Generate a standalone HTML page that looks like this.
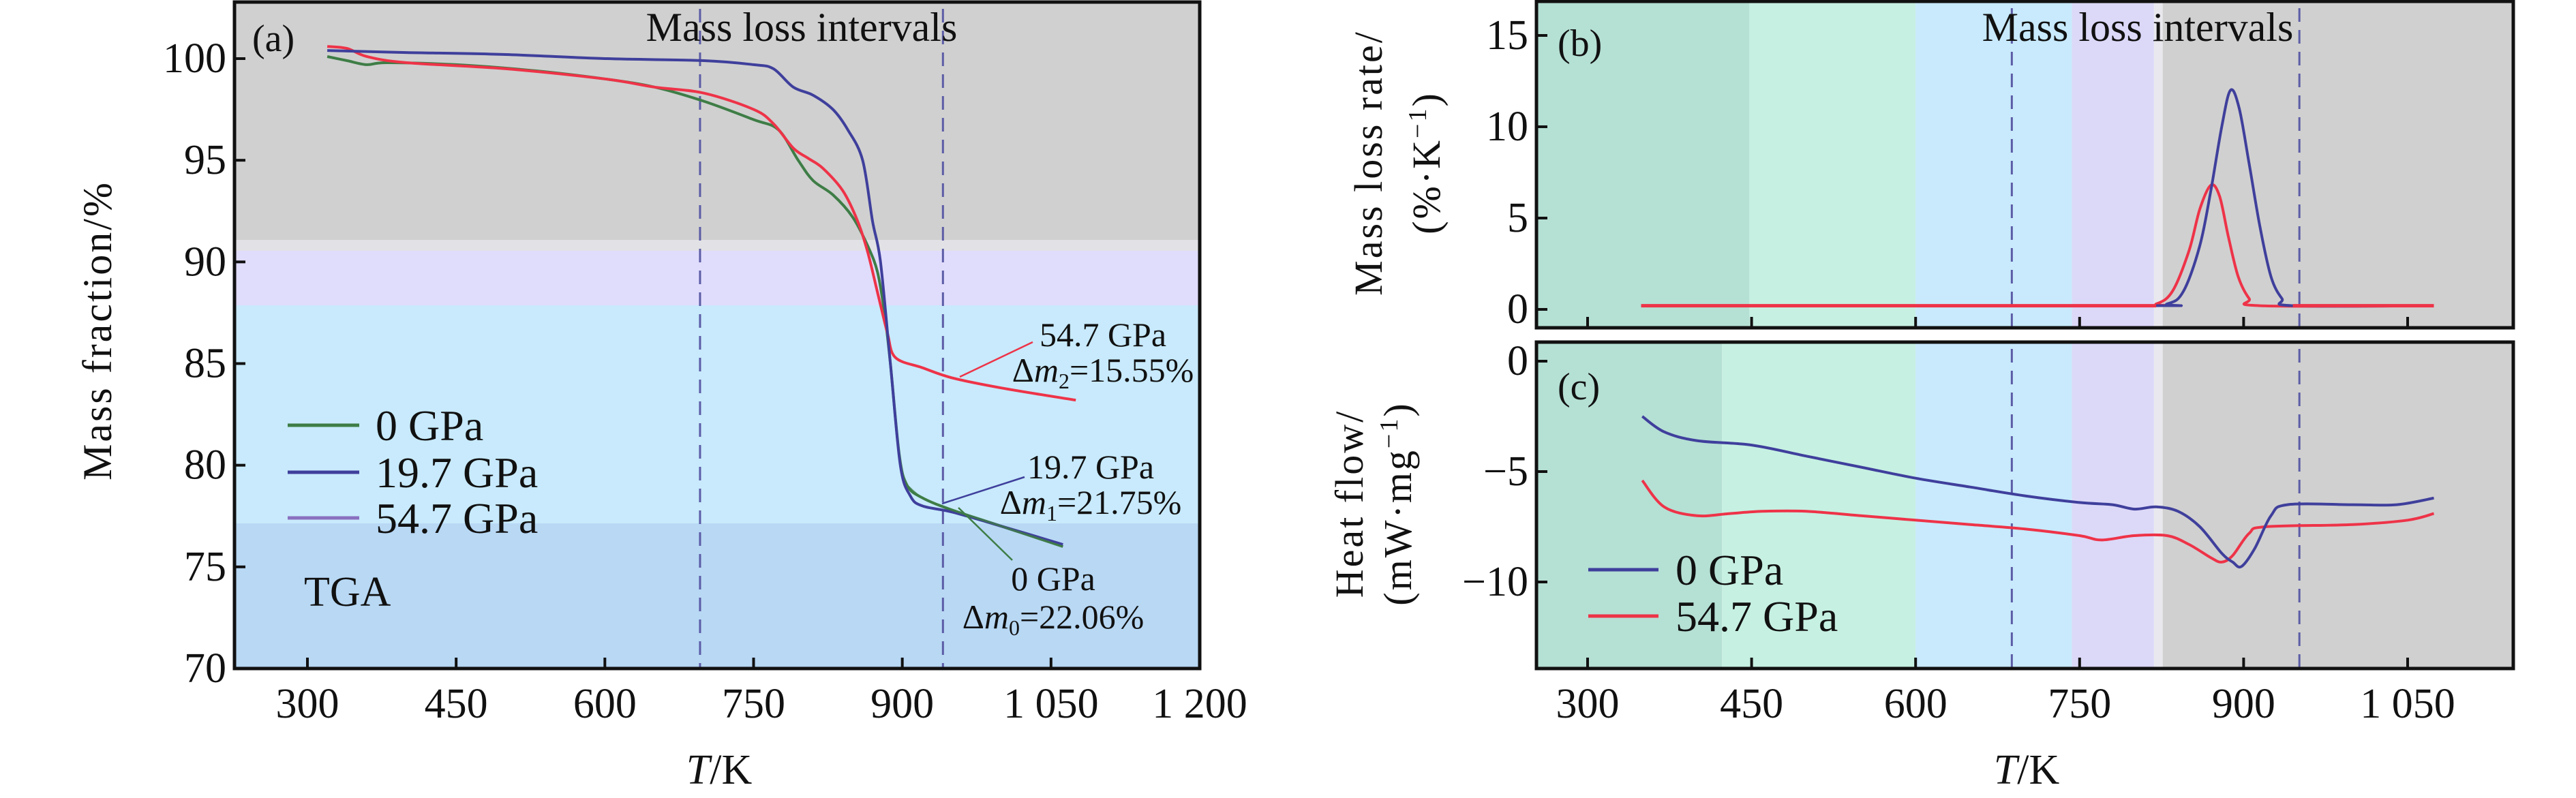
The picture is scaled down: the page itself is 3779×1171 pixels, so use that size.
<!DOCTYPE html>
<html><head><meta charset="utf-8"><style>
html,body{margin:0;padding:0;background:#fff}
svg{display:block}
text{font-family:"Liberation Serif",serif;fill:#111}
</style></head><body>
<svg id="fig" width="3779" height="1171" viewBox="0 0 3779 1171" xmlns="http://www.w3.org/2000/svg">
<g id="pa"></g>
<g id="pb"></g>
<g id="pc"></g>
</svg>
<script>
// Panel (a) TGA data
const tgaT0 = [320,340,360,380,450,530,600,650,700,750,775,795,810,830,850,865,875,882,888,897,905,920,950,1000,1062];
const tgaM0 = [100.1,99.9,99.7,99.8,99.7,99.4,99.0,98.6,97.9,97.0,96.5,95.0,94.0,93.3,92.2,90.8,89.5,87.5,85,80.5,79,78.4,77.8,77.0,76.0];
const tgaT1 = [320,400,500,600,700,750,770,790,810,830,845,860,870,878,888,898,908,920,950,1000,1062];
const tgaM1 = [100.4,100.3,100.2,100.0,99.9,99.7,99.5,98.6,98.2,97.5,96.5,95,92,90,85,80,78.5,78.0,77.7,77.0,76.1];
const tgaT2 = [320,340,360,400,500,600,650,700,750,770,790,805,820,840,855,865,875,885,893,920,950,1000,1075];
const tgaM2 = [100.6,100.5,100.1,99.8,99.5,99.0,98.6,98.3,97.5,96.8,95.6,95.1,94.6,93.5,92,90.5,88.5,86.5,85.3,84.8,84.3,83.8,83.2];
const tgaXTicks = [300,450,600,750,900,1050,1200];
const tgaXLabels = ["300","450","600","750","900","1 050","1 200"];
const tgaYTicks = [70,75,80,85,90,95,100];
// Panel (b) DTG
const dtgT0 = [349,800,830,845,860,870,880,888,896,905,915,925,935,945,1074];
const dtgV0 = [0.2,0.2,0.3,1.0,3.5,6.5,10,12,11,8,4.5,1.8,0.6,0.2,0.2];
const dtgT1 = [349,800,820,835,850,860,870,878,886,895,905,915,1074];
const dtgV1 = [0.2,0.2,0.3,1.0,3.2,5.5,6.8,6.2,4.0,1.8,0.6,0.2,0.2];
const dtgYTicks = [0,5,10,15];
// Panel (c) heat flow
const hfT0 = [350,370,400,450,500,550,600,650,700,750,780,800,820,840,860,880,890,898,910,925,940,1000,1040,1074];
const hfV0 = [-2.5,-3.2,-3.6,-3.8,-4.3,-4.8,-5.3,-5.7,-6.1,-6.4,-6.5,-6.7,-6.6,-6.8,-7.5,-8.7,-9.1,-9.3,-8.5,-7.0,-6.5,-6.5,-6.5,-6.2];
const hfT1 = [350,370,400,430,460,500,550,600,650,700,750,770,800,830,850,870,880,890,905,920,1000,1050,1074];
const hfV1 = [-5.4,-6.6,-7.0,-6.9,-6.8,-6.8,-7.0,-7.2,-7.4,-7.6,-7.9,-8.1,-7.9,-7.9,-8.3,-8.9,-9.1,-8.8,-7.8,-7.5,-7.4,-7.2,-6.9];
const bcXTicks = [300,450,600,750,900,1050];
const bcXLabels = ["300","450","600","750","900","1 050"];
const hfYTicks = [-10,-5,0];
const hfYLabels = ["\u221210","\u22125","0"];

const NS="http://www.w3.org/2000/svg";
function mk(tag,attrs,parent,txt){const e=document.createElementNS(NS,tag);for(const k in attrs)e.setAttribute(k,attrs[k]);if(txt!==undefined)e.textContent=txt;parent.appendChild(e);return e;}
function lin(d0,d1,r0,r1){return v=>r0+(v-d0)*(r1-r0)/(d1-d0);}
function path(xs,ys,sx,sy){
  const P=xs.map((x,i)=>[sx(x),sy(ys[i])]);
  let d="M"+P[0][0].toFixed(1)+","+P[0][1].toFixed(1);
  for(let i=0;i<P.length-1;i++){
    const p0=P[Math.max(0,i-1)],p1=P[i],p2=P[i+1],p3=P[Math.min(P.length-1,i+2)];
    const k=1/6;
    const c1=[p1[0]+(p2[0]-p0[0])*k,p1[1]+(p2[1]-p0[1])*k];
    const c2=[p2[0]-(p3[0]-p1[0])*k,p2[1]-(p3[1]-p1[1])*k];
    d+="C"+c1[0].toFixed(1)+","+c1[1].toFixed(1)+" "+c2[0].toFixed(1)+","+c2[1].toFixed(1)+" "+p2[0].toFixed(1)+","+p2[1].toFixed(1);
  }
  return d;}

const RED="#ee3348",BLUE="#3f3f9c",GREEN="#3e7d46",DASH="#5c5ca6";

// ---------- Panel A ----------
const A=document.getElementById('pa');
const aL=344,aR=1760,aT=3,aB=981;
const ax=lin(300,1200,451,1760), ay=lin(70,100,981,86);
let r;
r=mk('rect',{x:aL,y:aT,width:aR-aL,height:349,fill:'#d0d0d0'},A);

r=mk('rect',{x:aL,y:352,width:aR-aL,height:16,fill:'#e2e2e6'},A);

r=mk('rect',{x:aL,y:368,width:aR-aL,height:80,fill:'#e0dcfc'},A);

r=mk('rect',{x:aL,y:448,width:aR-aL,height:320,fill:'#c8eafc'},A);

r=mk('rect',{x:aL,y:768,width:aR-aL,height:aB-768,fill:'#b8d8f4'},A);

[696,941].forEach(t=>{const l=mk('line',{x1:ax(t),x2:ax(t),y1:aT+10,y2:aB,stroke:DASH,'stroke-width':3,'stroke-dasharray':'20 12'},A);
});
let p;
p=mk('path',{d:path(tgaT0,tgaM0,ax,ay),fill:'none',stroke:GREEN,'stroke-width':4},A);

p=mk('path',{d:path(tgaT2,tgaM2,ax,ay),fill:'none',stroke:RED,'stroke-width':4},A);

p=mk('path',{d:path(tgaT1,tgaM1,ax,ay),fill:'none',stroke:BLUE,'stroke-width':4},A);

p=mk('path',{d:path(tgaT0.slice(20),tgaM0.slice(20),ax,ay),fill:'none',stroke:GREEN,'stroke-width':3,opacity:0.8},A);

r=mk('rect',{x:aL,y:aT,width:aR-aL,height:aB-aT,fill:'none',stroke:'#111','stroke-width':5},A);

tgaXTicks.forEach((t,i)=>{const l=mk('line',{x1:ax(t),x2:ax(t),y1:aB,y2:aB-16,stroke:'#111','stroke-width':4},A);

const tx=mk('text',{x:ax(t),y:1053,'font-size':62,'text-anchor':'middle'},A,tgaXLabels[i]);
});
tgaYTicks.forEach(v=>{const l=mk('line',{x1:aL,x2:aL+16,y1:ay(v),y2:ay(v),stroke:'#111','stroke-width':4},A);

const tx=mk('text',{x:aL-12,y:ay(v)+20,'font-size':62,'text-anchor':'end'},A,String(v));
});
let t;
t=mk('text',{x:0,y:0,'font-size':60,'text-anchor':'middle','letter-spacing':3,transform:'translate(163,485) rotate(-90)'},A,'Mass fraction/%');

t=mk('text',{x:1055,y:1150,'font-size':62,'text-anchor':'middle'},A);

t.innerHTML='<tspan font-style="italic">T</tspan>/K';
t=mk('text',{x:370,y:75,'font-size':56},A,'(a)');

t=mk('text',{x:1176,y:60,'font-size':60,'text-anchor':'middle'},A,'Mass loss intervals');

t=mk('text',{x:446,y:889,'font-size':62,fill:'#0a3a1a'},A,'TGA');

[['0 GPa',GREEN,624],['19.7 GPa',BLUE,693],['54.7 GPa','#8a70c0',760]].forEach(e=>{
const l=mk('line',{x1:422,x2:527,y1:e[2],y2:e[2],stroke:e[1],'stroke-width':5},A);

const tx=mk('text',{x:551,y:e[2]+22,'font-size':64,fill:'#0a3a1a'},A,e[0]);
});
function ann(x,y1,y2,name,label,sub,val,lx1,ly1,lx2,ly2,col){
const g=mk('g',{},A);
mk('line',{x1:lx1,y1:ly1,x2:lx2,y2:ly2,stroke:col,'stroke-width':2.5},g);
mk('text',{x:x,y:y1,'font-size':50,'text-anchor':'middle'},g,label);
const tt=mk('text',{x:x,y:y2,'font-size':50,'text-anchor':'middle'},g);
tt.innerHTML='\u0394<tspan font-style="italic">m</tspan><tspan font-size="32" dy="10">'+sub+'</tspan><tspan dy="-10">='+val+'</tspan>';}
ann(1618,508,560,'annotation-54-7','54.7 GPa','2','15.55%',1408,553,1515,502,RED);
ann(1600,702,754,'annotation-19-7','19.7 GPa','1','21.75%',1382,739,1503,700,BLUE);
ann(1545,866,922,'annotation-0','0 GPa','0','22.06%',1406,745,1485,822,GREEN);

// ---------- Panels B & C ----------
const bL=2254,bR=3687;
const bx=lin(300,1050,2329,3532);
function bands(G,top,bot,firstEdge){
const spec=[[253,firstEdge,'#b5e0d4'],[firstEdge,600,'#c6f0e2'],[600,743,'#c8eafc'],[743,818,'#dcd8f8'],[818,826,'#e8e8ee'],[826,1147,'#d0d0d0']];
spec.forEach(s=>{const rr=mk('rect',{x:Math.max(bL,bx(s[0])),y:top,width:Math.min(bR,bx(s[1]))-Math.max(bL,bx(s[0])),height:bot-top,fill:s[2]},G);
});}
function dashes(G,top,bot){[688,951].forEach(tt=>{const l=mk('line',{x1:bx(tt),x2:bx(tt),y1:top,y2:bot,stroke:DASH,'stroke-width':3,'stroke-dasharray':'20 12'},G);
});}
function xt(G,bot,labels){bcXTicks.forEach((tt,i)=>{const l=mk('line',{x1:bx(tt),x2:bx(tt),y1:bot,y2:bot-16,stroke:'#111','stroke-width':4},G);

if(labels){const tx=mk('text',{x:bx(tt),y:1053,'font-size':62,'text-anchor':'middle'},G,bcXLabels[i]);
}});}

// B
const B=document.getElementById('pb');
const bT=2,bB=481; const by=lin(0,15,454,52);
bands(B,bT,bB,448);
dashes(B,bT+10,bB);
p=mk('path',{d:path(dtgT1,dtgV1,bx,by),fill:'none',stroke:RED,'stroke-width':4},B);

p=mk('path',{d:path(dtgT0,dtgV0,bx,by),fill:'none',stroke:BLUE,'stroke-width':4},B);

p=mk('path',{d:path([349,820],[0.2,0.2],bx,by),fill:'none',stroke:RED,'stroke-width':5},B);

p=mk('path',{d:path([945,1074],[0.2,0.2],bx,by),fill:'none',stroke:RED,'stroke-width':5},B);

r=mk('rect',{x:bL,y:bT,width:bR-bL,height:bB-bT,fill:'none',stroke:'#111','stroke-width':5},B);

xt(B,bB,false);
dtgYTicks.forEach(v=>{const l=mk('line',{x1:bL,x2:bL+16,y1:by(v),y2:by(v),stroke:'#111','stroke-width':4},B);

const tx=mk('text',{x:bL-12,y:by(v)+20,'font-size':62,'text-anchor':'end'},B,String(v));
});
t=mk('text',{x:2285,y:82,'font-size':56},B,'(b)');

t=mk('text',{x:3136,y:60,'font-size':60,'text-anchor':'middle'},B,'Mass loss intervals');

t=mk('text',{x:0,y:0,'font-size':58,'text-anchor':'middle','letter-spacing':3,transform:'translate(2027,239) rotate(-90)'},B,'Mass loss rate/');

t=mk('text',{x:0,y:0,'font-size':58,'text-anchor':'middle','letter-spacing':3,transform:'translate(2112,239) rotate(-90)'},B);

t.innerHTML='(%\u00b7K<tspan font-size="38" dy="-20">\u22121</tspan><tspan dy="20">)</tspan>';

// C
const C=document.getElementById('pc');
const cT=502,cB=981; const cy=lin(0,-10,530,854);
bands(C,cT,cB,423);
dashes(C,cT+10,cB);
p=mk('path',{d:path(hfT1,hfV1,bx,cy),fill:'none',stroke:RED,'stroke-width':4},C);

p=mk('path',{d:path(hfT0,hfV0,bx,cy),fill:'none',stroke:BLUE,'stroke-width':4},C);

r=mk('rect',{x:bL,y:cT,width:bR-bL,height:cB-cT,fill:'none',stroke:'#111','stroke-width':5},C);

xt(C,cB,true);
hfYTicks.forEach((v,i)=>{const l=mk('line',{x1:bL,x2:bL+16,y1:cy(v),y2:cy(v),stroke:'#111','stroke-width':4},C);

const tx=mk('text',{x:bL-12,y:cy(v)+20,'font-size':62,'text-anchor':'end'},C,hfYLabels[i]);
});
t=mk('text',{x:2285,y:586,'font-size':56},C,'(c)');

t=mk('text',{x:0,y:0,'font-size':58,'text-anchor':'middle','letter-spacing':3,transform:'translate(1999,739) rotate(-90)'},C,'Heat flow/');

t=mk('text',{x:0,y:0,'font-size':58,'text-anchor':'middle','letter-spacing':3,transform:'translate(2070,739) rotate(-90)'},C);

t.innerHTML='(mW\u00b7mg<tspan font-size="38" dy="-20">\u22121</tspan><tspan dy="20">)</tspan>';
[['0 GPa',BLUE,836],['54.7 GPa',RED,904]].forEach(e=>{
const l=mk('line',{x1:2330,x2:2433,y1:e[2],y2:e[2],stroke:e[1],'stroke-width':5},C);

const tx=mk('text',{x:2458,y:e[2]+22,'font-size':64},C,e[0]);
});
t=mk('text',{x:2973,y:1150,'font-size':62,'text-anchor':'middle'},C);

t.innerHTML='<tspan font-style="italic">T</tspan>/K';
</script>
</body></html>
